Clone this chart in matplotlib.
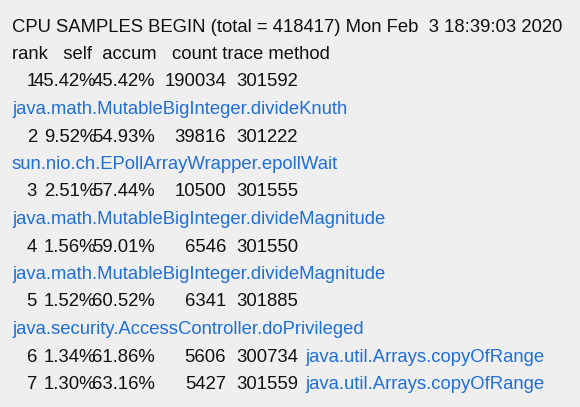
import matplotlib
matplotlib.use("Agg")
import matplotlib.pyplot as plt

header = "CPU SAMPLES BEGIN (total = 418417) Mon Feb  3 18:39:03 2020"
colhead = "rank   self  accum   count trace method"
ranks = [1, 2, 3, 4, 5, 6, 7]
selfp = ["45.42%", "9.52%", "2.51%", "1.56%", "1.52%", "1.34%", "1.30%"]
accum = ["45.42%", "54.93%", "57.44%", "59.01%", "60.52%", "61.86%", "63.16%"]
counts = [190034, 39816, 10500, 6546, 6341, 5606, 5427]
traces = [301592, 301222, 301555, 301550, 301885, 300734, 301559]
methods = ["java.math.MutableBigInteger.divideKnuth",
           "sun.nio.ch.EPollArrayWrapper.epollWait",
           "java.math.MutableBigInteger.divideMagnitude",
           "java.math.MutableBigInteger.divideMagnitude",
           "java.security.AccessController.doPrivileged",
           "java.util.Arrays.copyOfRange",
           "java.util.Arrays.copyOfRange"]
inline = [False, False, False, False, False, True, True]

W, H = 580, 407
fig = plt.figure(figsize=(W/100, H/100), dpi=100)
fig.patch.set_facecolor("#efeff0")
ax = fig.add_axes([0, 0, 1, 1])
ax.set_xlim(0, W); ax.set_ylim(H, 0); ax.axis("off")
fs = 13.3
font = "Liberation Sans"
black = "#111111"; blue = "#1f6fd8"
step = 27.5
y = 27
def t(x, y, s, ha="left", c=black):
    ax.text(x, y, s, ha=ha, va="center", fontsize=fs, family=font, color=c)
t(12, y, header); y += step
t(12, y, colhead); y += step
for i in range(len(ranks)):
    t(37, y, str(ranks[i]), "right")
    t(96, y, selfp[i], "right")
    t(155, y, accum[i], "right")
    t(226, y, str(counts[i]), "right")
    t(298, y, str(traces[i]), "right")
    if inline[i]:
        t(305, y, methods[i], c=blue); y += step
    else:
        y += step
        t(12, y, methods[i], c=blue); y += step
fig.savefig("out.png", dpi=100, facecolor=fig.get_facecolor())
